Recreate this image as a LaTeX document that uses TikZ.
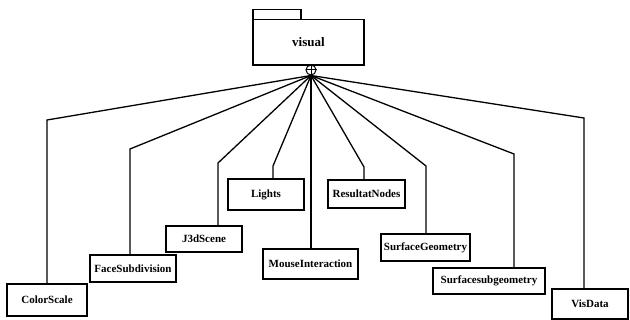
\documentclass[tikz,border=0pt]{standalone}
\usepackage{fontspec}
\setmainfont{Liberation Serif}
\usepackage{tikz}

\tikzset{
	classbox/.style={draw, line width=1.6pt, inner sep=0pt, font=\fontsize{11}{13}\selectfont\bfseries},
	link/.style={line width=1.3pt}
}

\begin{document}
\begin{tikzpicture}[x=1pt,y=-1pt]
		\useasboundingbox (0,0) rectangle (630,320);
		% package
		\draw[line width=1.6pt] (253,9.5) rectangle (301,19.5);
		\node[classbox, minimum width=111pt, minimum height=45.5pt, font=\fontsize{13}{15}\selectfont\bfseries] (visual) at (308.5,42.25) {visual};
		\node[circle, draw, line width=1pt, minimum size=10pt, inner sep=0pt] (hub) at (311,70) {};
		\draw[line width=1pt] (hub.north) -- (hub.south) (hub.west) -- (hub.east);
		% classes
		\node[classbox, minimum width=80pt, minimum height=32pt] (colorscale) at (47,300) {ColorScale};
		\node[classbox, minimum width=86pt, minimum height=27pt] (facesubdivision) at (133,268.5) {FaceSubdivision};
		\node[classbox, minimum width=76pt, minimum height=26pt] (jscene) at (204,239) {J3dScene};
		\node[classbox, minimum width=76pt, minimum height=31pt] (lights) at (266,194.5) {Lights};
		\node[classbox, minimum width=95pt, minimum height=30pt] (mouseinteraction) at (310.5,264) {MouseInteraction};
		\node[classbox, minimum width=77pt, minimum height=28pt] (resultatnodes) at (366.5,194) {ResultatNodes};
		\node[classbox, minimum width=89pt, minimum height=27pt] (surfacegeometry) at (425.5,247.5) {SurfaceGeometry};
		\node[classbox, minimum width=112pt, minimum height=26pt] (surfacesubgeometry) at (489,281) {Surfacesubgeometry};
		\node[classbox, minimum width=76pt, minimum height=30pt] (visdata) at (590,304) {VisData};
		% links
		\foreach \n/\bx/\by in {colorscale/47/120, facesubdivision/130/149, jscene/218/163, lights/273/166, mouseinteraction/311/100, resultatnodes/364/167, surfacegeometry/426/166, surfacesubgeometry/514/154, visdata/584/118}{
			\coordinate (bend) at (\bx,\by);
			\draw[link] (hub.south) -- (bend) -- (bend |- \n.north);
		}
		\end{tikzpicture}
\end{document}
